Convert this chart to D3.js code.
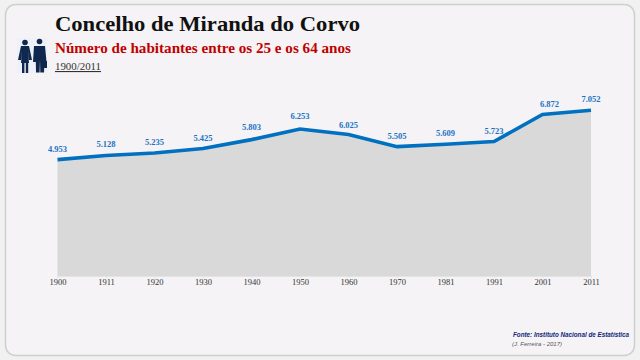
<!DOCTYPE html>
<html>
<head>
<meta charset="utf-8">
<script src="https://cdn.jsdelivr.net/npm/d3@7"></script>
<style>
  html, body { margin: 0; padding: 0; background: #f1f1f1; }
  svg { display: block; }
  text { font-family: "Liberation Serif", serif; }
</style>
</head>
<body>
<div id="chart-area"></div>
<script>
var years = ["1900", "1911", "1920", "1930", "1940", "1950", "1960", "1970", "1981", "1991", "2001", "2011"];
var habitantes = [4953, 5128, 5235, 5425, 5803, 6253, 6025, 5505, 5609, 5723, 6872, 7052];
var valueLabels = ["4.953", "5.128", "5.235", "5.425", "5.803", "6.253", "6.025", "5.505", "5.609", "5.723", "6.872", "7.052"];

var width = 640;
var height = 360;

var svg = d3.select("#chart-area")
  .append("svg")
  .attr("width", width)
  .attr("height", height);

// moldura
svg.append("rect")
  .attr("x", 5.5).attr("y", 4.5)
  .attr("width", 629).attr("height", 351)
  .attr("rx", 10).attr("ry", 10)
  .attr("fill", "#f5f3f5")
  .attr("stroke", "#cfcfcf")
  .attr("stroke-width", 1.5);

var x = d3.scalePoint()
  .domain(years)
  .range([57.5, 591]);

var y = d3.scaleLinear()
  .domain([0, 8000])
  .range([276, 88]);

var area = d3.area()
  .x((d, i) => x(years[i]))
  .y0(y(0))
  .y1(d => y(d));

var line = d3.line()
  .x((d, i) => x(years[i]))
  .y(d => y(d));

svg.append("path")
  .datum(habitantes)
  .attr("d", area)
  .attr("fill", "#d9d9d9");

svg.append("path")
  .datum(habitantes)
  .attr("d", line)
  .attr("fill", "none")
  .attr("stroke", "#0070c0")
  .attr("stroke-width", 3.6);

// alguns rotulos estao deslocados no original
var nudgeX = { "2001": 7 };
var nudgeY = { "1940": -2, "1950": -2, "1960": 2 };

svg.selectAll(".value")
  .data(habitantes)
  .enter()
  .append("text")
  .attr("class", "value")
  .attr("x", (d, i) => x(years[i]) + (nudgeX[years[i]] || 0))
  .attr("y", (d, i) => y(d) - 8 + (nudgeY[years[i]] || 0))
  .attr("text-anchor", "middle")
  .attr("font-size", "8.5px")
  .attr("font-weight", "bold")
  .attr("fill", "#1a74c4")
  .text((d, i) => valueLabels[i]);

var bottomAxis = d3.axisBottom(x).tickSize(2).tickPadding(1);
var xAxis = svg.append("g")
  .attr("class", "x axis")
  .attr("transform", "translate(0, 276)")
  .call(bottomAxis);
xAxis.select(".domain").attr("stroke", "#e4e4e4");
xAxis.selectAll("line").attr("stroke", "#e4e4e4");
xAxis.selectAll("text")
  .attr("font-size", "8.5px")
  .attr("font-family", "Liberation Serif")
  .attr("fill", "#333");

// titulos
svg.append("text")
  .attr("x", 55).attr("y", 31)
  .attr("font-size", "22px")
  .attr("font-weight", "bold")
  .attr("fill", "#111")
  .attr("textLength", 305)
  .attr("lengthAdjust", "spacingAndGlyphs")
  .text("Concelho de Miranda do Corvo");

svg.append("text")
  .attr("x", 55).attr("y", 53)
  .attr("font-size", "14.5px")
  .attr("font-weight", "bold")
  .attr("fill", "#c00000")
  .attr("textLength", 296)
  .attr("lengthAdjust", "spacingAndGlyphs")
  .text("Número de habitantes entre os 25 e os 64 anos");

svg.append("text")
  .attr("x", 55).attr("y", 70)
  .attr("font-size", "11px")
  .attr("fill", "#333")
  .attr("text-decoration", "underline")
  .attr("textLength", 46)
  .attr("lengthAdjust", "spacingAndGlyphs")
  .text("1900/2011");

// icone (mulher e homem)
var icon = svg.append("g").attr("fill", "#10284e");
icon.append("rect").attr("x", 17).attr("y", 38).attr("width", 30).attr("height", 35).attr("fill", "#eef1f7");
icon.append("circle").attr("cx", 25).attr("cy", 42.5).attr("r", 2.8);
icon.append("path").attr("d", "M21 46 L29 46 L32 60 L29 60 L28 50 L29 63 L21 63 L22 50 L21 60 L18 60 Z");
icon.append("rect").attr("x", 22).attr("y", 63).attr("width", 2.4).attr("height", 10);
icon.append("rect").attr("x", 25.8).attr("y", 63).attr("width", 2.4).attr("height", 10);
icon.append("circle").attr("cx", 39.5).attr("cy", 41.5).attr("r", 2.8);
icon.append("path").attr("d", "M34 46 L45 46 L46.5 62 L44.5 62 L44 72.5 L40.3 72.5 L40 60 L39.6 72.5 L36 72.5 L35.8 62 L33 62 Z");
icon.append("rect").attr("x", 43.5).attr("y", 61).attr("width", 3.5).attr("height", 7);

// fonte
svg.append("text")
  .attr("x", 513).attr("y", 337)
  .attr("font-size", "6.3px")
  .attr("font-weight", "bold")
  .attr("font-style", "italic")
  .attr("fill", "#10287a")
  .attr("textLength", 116)
  .attr("lengthAdjust", "spacingAndGlyphs")
  .style("font-family", "'Liberation Sans', sans-serif")
  .text("Fonte: Instituto Nacional de Estatística");

svg.append("text")
  .attr("x", 512).attr("y", 346)
  .attr("font-size", "6px")
  .attr("font-style", "italic")
  .attr("fill", "#555")
  .style("font-family", "'Liberation Sans', sans-serif")
  .text("(J. Ferreira - 2017)");
</script>
</body>
</html>
